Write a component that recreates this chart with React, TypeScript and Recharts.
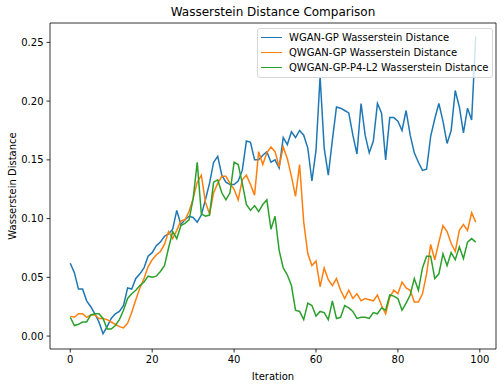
import { LineChart, Line, XAxis, YAxis, Legend, ReferenceLine } from 'recharts'

const wganGp = [
  0.062, 0.054, 0.04, 0.04, 0.03, 0.025, 0.019, 0.012, 0.002, 0.008,
  0.015, 0.019, 0.021, 0.026, 0.041, 0.04, 0.049, 0.053, 0.058, 0.068,
  0.071, 0.077, 0.08, 0.085, 0.087, 0.091, 0.107, 0.095, 0.099, 0.102,
  0.101, 0.097, 0.103, 0.116, 0.13, 0.148, 0.153, 0.137, 0.131, 0.129,
  0.129, 0.132, 0.141, 0.166, 0.165, 0.15, 0.15, 0.154, 0.157, 0.148,
  0.15, 0.143, 0.169, 0.163, 0.174, 0.169, 0.175, 0.171, 0.16, 0.132,
  0.158, 0.221, 0.16, 0.137, 0.167, 0.195, 0.194, 0.192, 0.19, 0.171,
  0.155, 0.198, 0.171, 0.156, 0.166, 0.198, 0.19, 0.15, 0.186, 0.186,
  0.183, 0.175, 0.192, 0.171, 0.156, 0.148, 0.141, 0.142, 0.17, 0.185,
  0.198, 0.183, 0.164, 0.175, 0.209, 0.195, 0.173, 0.194, 0.184, 0.255,
]

const qwganGp = [
  0.017, 0.016, 0.019, 0.019, 0.016, 0.018, 0.018, 0.015, 0.015, 0.014,
  0.012, 0.01, 0.008, 0.007, 0.011, 0.02, 0.031, 0.041, 0.049, 0.059,
  0.065, 0.069, 0.072, 0.078, 0.089, 0.083, 0.09, 0.098, 0.099, 0.106,
  0.117, 0.131, 0.137, 0.114, 0.104, 0.122, 0.13, 0.136, 0.136, 0.13,
  0.125, 0.116, 0.133, 0.137, 0.129, 0.12, 0.157, 0.146, 0.156, 0.161,
  0.157, 0.144, 0.161, 0.151, 0.136, 0.119, 0.146, 0.097, 0.07, 0.06,
  0.064, 0.042, 0.058, 0.048, 0.043, 0.049, 0.039, 0.032, 0.039, 0.032,
  0.036, 0.03, 0.032, 0.031, 0.03, 0.035, 0.026, 0.019, 0.033, 0.039,
  0.036, 0.046, 0.041, 0.039, 0.029, 0.029, 0.036, 0.053, 0.078, 0.065,
  0.08, 0.094, 0.089, 0.079, 0.072, 0.09, 0.095, 0.09, 0.105, 0.097,
]

const qwganGpP4L2 = [
  0.016, 0.009, 0.01, 0.012, 0.012, 0.018, 0.019, 0.019, 0.015, 0.006,
  0.006, 0.009, 0.014, 0.022, 0.032, 0.036, 0.039, 0.043, 0.046, 0.051,
  0.05, 0.051, 0.055, 0.06, 0.075, 0.089, 0.083, 0.094, 0.096, 0.099,
  0.117, 0.148, 0.104, 0.102, 0.103, 0.131, 0.133, 0.122, 0.116, 0.122,
  0.148, 0.146, 0.13, 0.112, 0.107, 0.111, 0.106, 0.112, 0.116, 0.091,
  0.102, 0.073, 0.058, 0.052, 0.043, 0.022, 0.021, 0.014, 0.028, 0.026,
  0.017, 0.021, 0.02, 0.014, 0.03, 0.015, 0.016, 0.026, 0.024, 0.021,
  0.015, 0.016, 0.016, 0.015, 0.02, 0.019, 0.024, 0.022, 0.035, 0.034,
  0.032, 0.022, 0.028, 0.035, 0.049, 0.039, 0.058, 0.068, 0.068, 0.049,
  0.053, 0.07, 0.06, 0.071, 0.065, 0.076, 0.066, 0.08, 0.083, 0.08,
]

const xTicks = [0, 20, 40, 60, 80, 100]
const yTicks = [0, 0.05, 0.1, 0.15, 0.2, 0.25]

const series = [
  { key: 'wgan', name: 'WGAN-GP Wasserstein Distance', color: '#1f77b4' },
  { key: 'qwgan', name: 'QWGAN-GP Wasserstein Distance', color: '#ff7f0e' },
  { key: 'qwganP4', name: 'QWGAN-GP-P4-L2 Wasserstein Distance', color: '#2ca02c' },
]

const data = wganGp.map((v, i) => ({
  iteration: i,
  wgan: v,
  qwgan: qwganGp[i],
  qwganP4: qwganGpP4L2[i],
}))

const font = "'DejaVu Sans', sans-serif"
const tickStyle = { fontSize: 10, fill: '#000', fontFamily: font }
const xDomain = [-4.95, 103.95]
const yDomain = [-0.011, 0.2665]

function LegendBox() {
  return (
    <div
      style={{
        width: 236,
        boxSizing: 'border-box',
        border: '1px solid #d6d6d6',
        borderRadius: 3,
        background: 'rgba(255,255,255,0.8)',
        padding: '1px 0 2px 3px',
        fontFamily: font,
        fontSize: 10,
        color: '#000',
      }}
    >
      {series.map((s) => (
        <div key={s.key} style={{ display: 'flex', alignItems: 'center', height: 15 }}>
          <div style={{ width: 21, height: 1.5, background: s.color, marginRight: 7 }} />
          <span style={{ whiteSpace: 'nowrap' }}>{s.name}</span>
        </div>
      ))}
    </div>
  )
}

export default function App() {
  return (
    <div style={{ position: 'absolute', left: 0, top: 0, width: 504, height: 387, background: '#fff' }}>
      <div
        style={{
          position: 'absolute',
          left: 50,
          width: 446,
          top: 5,
          textAlign: 'center',
          fontFamily: font,
          fontSize: 12,
          color: '#000',
        }}
      >
        Wasserstein Distance Comparison
      </div>
      <LineChart
        width={504}
        height={387}
        data={data}
        margin={{ top: 23, right: 8, bottom: 0, left: 0 }}
      >
        <XAxis
          dataKey="iteration"
          type="number"
          domain={xDomain}
          ticks={xTicks}
          allowDataOverflow
          height={38}
          tickSize={3.5}
          tickMargin={3}
          tick={tickStyle}
          axisLine={{ stroke: '#000', strokeWidth: 0.8 }}
          tickLine={{ stroke: '#000', strokeWidth: 0.8 }}
          label={{ value: 'Iteration', position: 'insideBottom', offset: 7, style: { fontSize: 10, fill: '#000', fontFamily: font } }}
        />
        <YAxis
          type="number"
          domain={yDomain}
          ticks={yTicks}
          allowDataOverflow
          width={50}
          tickSize={3.5}
          tickMargin={3}
          tick={tickStyle}
          tickFormatter={(v: number) => v.toFixed(2)}
          axisLine={{ stroke: '#000', strokeWidth: 0.8 }}
          tickLine={{ stroke: '#000', strokeWidth: 0.8 }}
          label={{
            value: 'Wasserstein Distance',
            angle: -90,
            position: 'insideLeft',
            offset: 12,
            style: { textAnchor: 'middle', fontSize: 10, fill: '#000', fontFamily: font },
          }}
        />
        {/* top and right spines */}
        <ReferenceLine y={yDomain[1]} stroke="#000" strokeWidth={0.8} />
        <ReferenceLine x={xDomain[1]} stroke="#000" strokeWidth={0.8} />
        {series.map((s) => (
          <Line
            key={s.key}
            type="linear"
            dataKey={s.key}
            name={s.name}
            stroke={s.color}
            strokeWidth={1.5}
            dot={false}
            activeDot={false}
            isAnimationActive={false}
          />
        ))}
        <Legend
          layout="vertical"
          align="center"
          verticalAlign="middle"
          content={() => <LegendBox />}
          wrapperStyle={{ top: 28, left: 257, width: 236 }}
        />
      </LineChart>
    </div>
  )
}
